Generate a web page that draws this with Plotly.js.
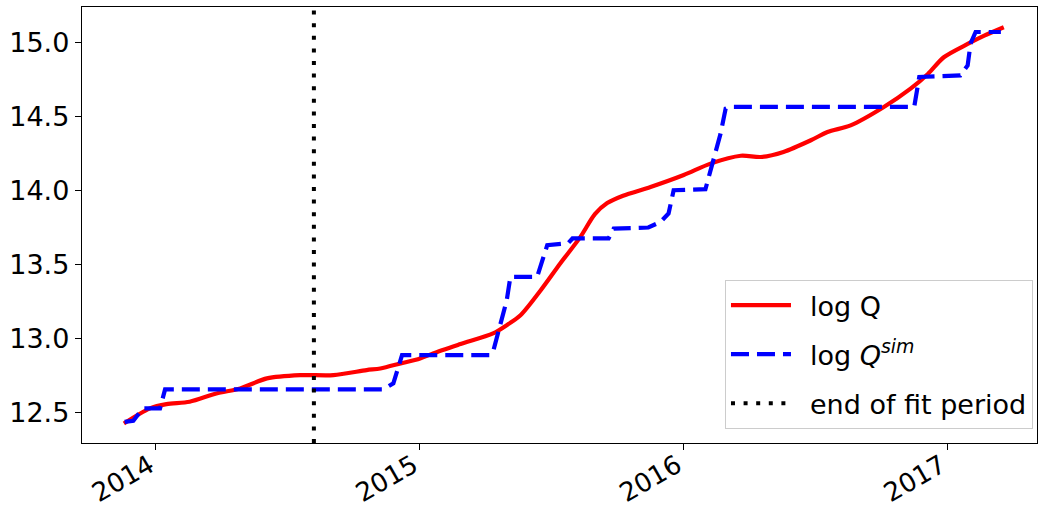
<!DOCTYPE html>
<html>
<head>
<meta charset="utf-8">
<script src="https://cdn.plot.ly/plotly-3.0.1.min.js"></script>
<style>html,body{margin:0;padding:0;background:#fff;}#chart{width:1039px;height:514px;}</style>
</head>
<body>
<div id="chart"></div>
<script>
// observed series: log Q
const obsDates = ['2013-11-18','2013-12-24','2014-01-16','2014-02-17','2014-03-26','2014-04-28','2014-06-04','2014-07-20','2014-09-04','2014-10-20','2014-11-08','2014-12-06','2015-01-02','2015-01-20','2015-02-27','2015-04-13','2015-05-02','2015-05-21','2015-06-18','2015-07-15','2015-08-12','2015-09-01','2015-09-18','2015-10-10','2015-11-17','2016-01-02','2016-02-08','2016-03-21','2016-04-18','2016-05-19','2016-06-26','2016-07-19','2016-08-20','2016-10-05','2016-11-11','2016-12-05','2016-12-27','2017-01-29','2017-02-21','2017-03-20'];
const obsValues = [12.425,12.527,12.556,12.572,12.628,12.662,12.730,12.752,12.752,12.786,12.797,12.831,12.865,12.899,12.962,13.034,13.090,13.157,13.326,13.507,13.687,13.840,13.915,13.965,14.024,14.105,14.182,14.235,14.227,14.261,14.340,14.396,14.441,14.565,14.689,14.788,14.901,14.991,15.047,15.104];

// simulated series: log Q^sim (step-like)
const simDates = ['2013-11-19','2013-12-01','2013-12-14','2014-01-07','2014-01-14','2014-11-12','2014-11-26','2014-12-08','2015-04-09','2015-04-13','2015-05-02','2015-05-07','2015-06-13','2015-06-22','2015-06-27','2015-07-26','2015-08-01','2015-09-20','2015-09-27','2015-11-14','2015-12-01','2015-12-12','2015-12-19','2016-02-01','2016-02-10','2016-02-22','2016-02-29','2016-03-07','2016-11-16','2016-11-23','2017-01-19','2017-01-29','2017-02-02','2017-02-09','2017-03-16'];
const simValues = [12.436,12.443,12.527,12.527,12.655,12.655,12.696,12.887,12.887,12.909,13.259,13.416,13.416,13.551,13.630,13.644,13.676,13.676,13.743,13.750,13.788,13.845,14.002,14.009,14.182,14.385,14.554,14.566,14.565,14.768,14.779,14.846,14.993,15.072,15.072];

// end of fit period
const fitEnd = '2014-08-08';

const xRange = ['2013-09-21', '2017-05-05'];
const yRange = [12.293, 15.241];
const yTicks = [12.5, 13.0, 13.5, 14.0, 14.5, 15.0];
const yTickText = ['12.5', '13.0', '13.5', '14.0', '14.5', '15.0'];
const xTicks = ['2014-01-01', '2015-01-01', '2016-01-01', '2017-01-01'];
const xTickText = ['2014', '2015', '2016', '2017'];
const legendNames = ['log Q', 'log <i>Q</i><sup><i>sim</i></sup>', 'end of fit period'];
const pad = '&nbsp;\u2009';

const traces = [
  {x: obsDates, y: obsValues, type: 'scatter', mode: 'lines', name: pad + legendNames[0],
   line: {color: '#ff0000', width: 4.2, shape: 'spline', smoothing: 0.8}, legendgroup: 'a'},
  {x: simDates, y: simValues, type: 'scatter', mode: 'lines', name: pad + legendNames[1],
   line: {color: '#0000ff', width: 4.2, dash: '18px,8px'}, legendgroup: 'b'},
  {x: [fitEnd, fitEnd], y: yRange, type: 'scatter', mode: 'lines', name: pad + legendNames[2],
   line: {color: '#000000', width: 4, dash: '4px,8.6px'}, legendgroup: 'c'}
];

const layout = {
  width: 1039, height: 514,
  margin: {l: 82, r: 2, t: 7, b: 71},
  paper_bgcolor: '#ffffff', plot_bgcolor: '#ffffff',
  font: {family: 'DejaVu Sans', size: 27, color: '#000'},
  showlegend: true,
  legend: {
    x: 0.9958, xanchor: 'right', y: 0.032, yanchor: 'bottom',
    bgcolor: 'rgba(255,255,255,0.8)', bordercolor: '#cccccc', borderwidth: 1,
    font: {family: 'DejaVu Sans', size: 27, color: '#000'},
    traceorder: 'grouped', tracegroupgap: 11, itemwidth: 60
  },
  xaxis: {
    type: 'date', range: xRange, tickmode: 'array', tickvals: xTicks, ticktext: xTickText,
    tickangle: -30, ticks: 'outside', ticklen: 6, tickwidth: 1, tickcolor: '#000',
    ticklabelstandoff: -10, ticklabelshift: -6,
    showline: true, linecolor: '#000', linewidth: 1.2, mirror: true, showgrid: false, zeroline: false,
    tickfont: {family: 'DejaVu Sans', size: 26, color: '#000'}
  },
  yaxis: {
    range: yRange, tickmode: 'array', tickvals: yTicks, ticktext: yTickText,
    ticks: 'outside', ticklen: 6, tickwidth: 1, tickcolor: '#000',
    showline: true, linecolor: '#000', linewidth: 1.2, mirror: true, showgrid: false, zeroline: false,
    tickfont: {family: 'DejaVu Sans', size: 27, color: '#000'}
  }
};

Plotly.newPlot('chart', traces, layout, {displayModeBar: false, staticPlot: true});
</script>
</body>
</html>
